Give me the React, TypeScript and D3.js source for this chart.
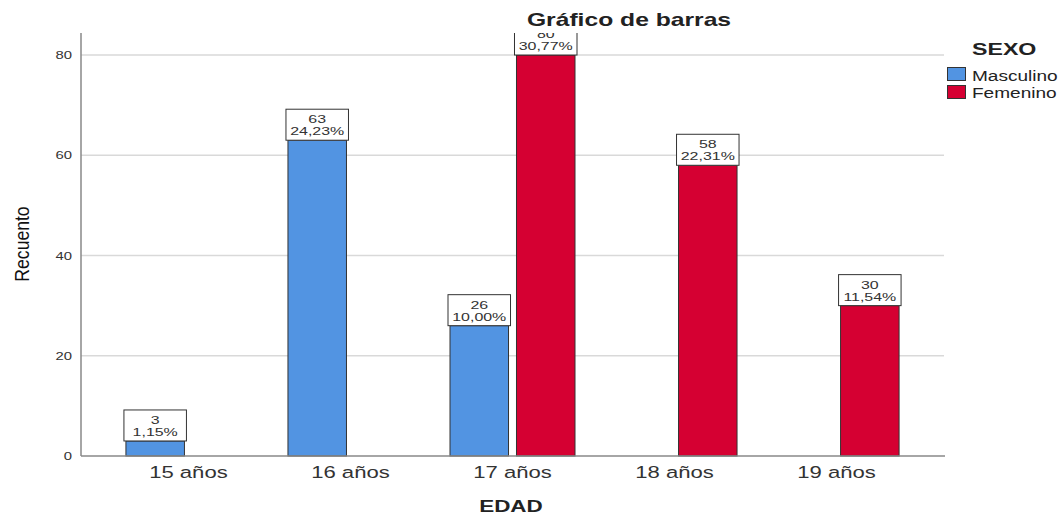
import React, { useEffect } from "react";
import * as d3 from "d3";

const categories = ["15 años", "16 años", "17 años", "18 años", "19 años"];
const seriesNames = ["Masculino", "Femenino"];
const masculino: (number | null)[] = [3, 63, 26, null, null];
const femenino: (number | null)[] = [null, null, 80, 58, 30];
const masculinoPct: (string | null)[] = ["1,15%", "24,23%", "10,00%", null, null];
const femeninoPct: (string | null)[] = [null, null, "30,77%", "22,31%", "11,54%"];
const yTicks = [0, 20, 40, 60, 80];
const colors = ["#5294e2", "#d50032"];

const W = 1062;
const H = 516;
const FONT = "'Liberation Sans', Arial, sans-serif";

export default function App() {
  useEffect(() => {
    document.body.style.margin = "0";
  }, []);

  const left = 81;
  const right = 944;
  const top = 33;
  const bottom = 456;

  const y = d3.scaleLinear().domain([0, 80]).range([bottom, 55]);
  const x = d3.scalePoint<string>().domain(categories).range([left, right]).padding(0.663);
  const inner = d3.scaleBand<string>().domain(seriesNames).range([-62.5, 62.5]).paddingInner(0.12);
  const bw = inner.bandwidth();

  const bars: { cat: string; s: number; v: number; pct: string }[] = [];
  categories.forEach((c, i) => {
    if (masculino[i] != null) bars.push({ cat: c, s: 0, v: masculino[i] as number, pct: masculinoPct[i] as string });
    if (femenino[i] != null) bars.push({ cat: c, s: 1, v: femenino[i] as number, pct: femeninoPct[i] as string });
  });

  const stretched = (
    key: string,
    tx: number,
    ty: number,
    text: string,
    size: number,
    sx: number,
    anchor: "start" | "middle" | "end",
    weight: string = "normal",
    fill: string = "#222"
  ) => (
    <text
      key={key}
      transform={`translate(${tx},${ty}) scale(${sx},1)`}
      textAnchor={anchor}
      fontSize={size}
      fontWeight={weight}
      fill={fill}
      fontFamily={FONT}
    >
      {text}
    </text>
  );

  return (
    <svg width={W} height={H} style={{ display: "block", background: "#fff" }}>
      <defs>
        <clipPath id="plotClip">
          <rect x={left} y={top} width={right - left + 2} height={bottom - top + 1} />
        </clipPath>
      </defs>
      {/* gridlines */}
      {yTicks.filter((t) => t > 0).map((t) => (
        <line key={"g" + t} x1={left} x2={right} y1={y(t)} y2={y(t)} stroke="#d9d9d9" strokeWidth={1.5} />
      ))}
      {/* y tick labels */}
      {yTicks.map((t) => stretched("yt" + t, 72, y(t) + 4, String(t), 11, 1.35, "end", "normal", "#333"))}
      {/* bars */}
      <g clipPath="url(#plotClip)">
        {bars.map((b, i) => {
          const bx = (x(b.cat) as number) + (inner(seriesNames[b.s]) as number);
          const by = y(b.v);
          return (
            <rect key={"b" + i} x={bx} y={by} width={bw} height={bottom - by} fill={colors[b.s]} stroke="#333" strokeWidth={1} />
          );
        })}
        {bars.map((b, i) => {
          const bx = (x(b.cat) as number) + (inner(seriesNames[b.s]) as number);
          const by = y(b.v);
          const cx = bx + bw / 2;
          return (
            <g key={"l" + i}>
              <rect x={bx - 2} y={by - 31} width={bw + 4} height={31} fill="#fff" stroke="#333" strokeWidth={1} />
              {stretched("l1" + i, cx, by - 17, String(b.v), 11, 1.45, "middle", "normal", "#333")}
              {stretched("l2" + i, cx, by - 5, b.pct, 11, 1.45, "middle", "normal", "#333")}
            </g>
          );
        })}
      </g>
      {/* axes */}
      <line x1={left} x2={left} y1={top} y2={bottom} stroke="#888" strokeWidth={1.5} />
      <line x1={left} x2={right + 1} y1={bottom} y2={bottom} stroke="#888" strokeWidth={1.5} />
      {/* x tick labels */}
      {categories.map((c) => stretched("xt" + c, x(c) as number, 478, c, 17, 1.3, "middle", "normal", "#333"))}
      {/* axis titles */}
      {stretched("xt", 511, 512, "EDAD", 17, 1.32, "middle", "bold", "#222")}
      <text
        transform={`translate(29,244) rotate(-90) scale(0.88,1)`}
        textAnchor="middle"
        fontSize={20}
        fontFamily={FONT}
        fill="#111"
      >
        Recuento
      </text>
      {/* title */}
      {stretched("title", 629, 26, "Gráfico de barras", 18, 1.37, "middle", "bold", "#222")}
      {/* legend */}
      {stretched("legt", 972, 55, "SEXO", 16, 1.45, "start", "bold", "#222")}
      {seriesNames.map((s, i) => (
        <g key={"leg" + s}>
          <rect x={947.5} y={67.5 + i * 18} width={18} height={13} fill={colors[i]} stroke="#333" strokeWidth={1} />
          {stretched("legl" + s, 972, 81 + i * 17, s, 14, 1.36, "start", "normal", "#222")}
        </g>
      ))}
    </svg>
  );
}
